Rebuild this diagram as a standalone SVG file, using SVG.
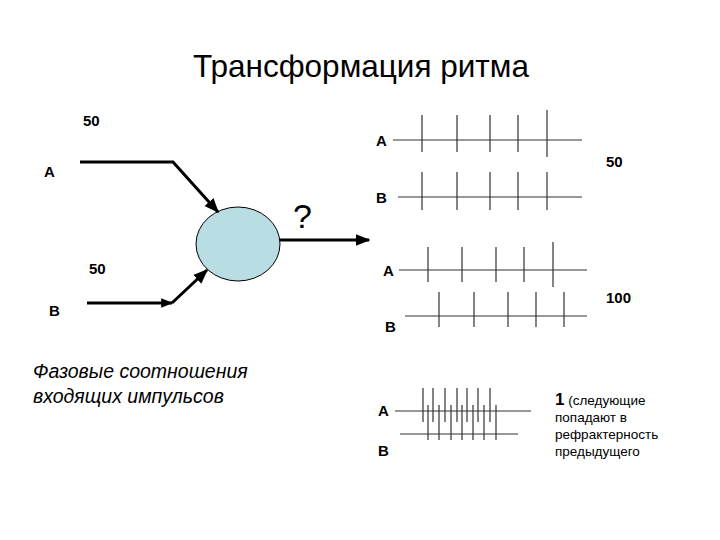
<svg xmlns="http://www.w3.org/2000/svg" width="720" height="540" viewBox="0 0 720 540">
<defs>
<marker id="ah" viewBox="0 0 10 10" refX="9" refY="5" markerWidth="5" markerHeight="5" orient="auto" markerUnits="strokeWidth"><path d="M0,1 L10,5 L0,9 z" fill="#000"/></marker>
<marker id="ahs" viewBox="0 0 10 10" refX="9" refY="5" markerWidth="4" markerHeight="4" orient="auto" markerUnits="strokeWidth"><path d="M0,1 L10,5 L0,9 z" fill="#000"/></marker>
</defs>
<style>
text{font-family:"Liberation Sans",Arial,sans-serif;fill:#000}
.b{font-weight:bold;font-size:15px}
.axis{stroke:#333;stroke-width:1.2;fill:none}
.tick{stroke:#333;stroke-width:1.2}
.conn{stroke:#000;stroke-width:3;fill:none}
.note{font-size:13.5px}
</style>
<rect width="720" height="540" fill="#fff"/>
<text x="361" y="77" font-size="31.5" text-anchor="middle">Трансформация ритма</text>

<g id="labels-left">
<text class="b" x="83" y="126">50</text>
<text class="b" x="44" y="177">A</text>
<text class="b" x="89" y="274">50</text>
<text class="b" x="49" y="316">B</text>
<text x="293" y="228" font-size="34">?</text>
</g>

<g id="neuron">
<ellipse cx="238" cy="244" rx="42" ry="37" fill="#b8dde2" stroke="#000" stroke-width="1"/>
</g>

<g id="connectors">
<polyline class="conn" points="80,162 173,162 218,212" marker-end="url(#ah)"/>
<line class="conn" x1="87" y1="303" x2="172" y2="303" marker-end="url(#ahs)"/>
<line class="conn" x1="172" y1="303" x2="207" y2="270" marker-end="url(#ah)"/>
<line class="conn" x1="280" y1="240" x2="369" y2="240" marker-end="url(#ah)"/>
</g>

<g id="trace1">
<text class="b" x="376" y="146">A</text>
<line class="axis" x1="393" y1="140" x2="582" y2="140"/>
<path class="tick" d="M422,115V152M457,115V152M490,115V152M518,115V152M547,110V157"/>
<text class="b" x="376" y="203">B</text>
<line class="axis" x1="398" y1="197" x2="582" y2="197"/>
<path class="tick" d="M422,172V210M457,172V210M490,172V210M518,172V210M547,172V210"/>
<text class="b" x="606" y="167">50</text>
</g>

<g id="trace2">
<text class="b" x="383" y="276">A</text>
<line class="axis" x1="399" y1="270" x2="587" y2="270"/>
<path class="tick" d="M428,247V282M462,247V282M496,247V282M524,247V282M553,242V287"/>
<text class="b" x="385" y="332">B</text>
<line class="axis" x1="405" y1="316" x2="587" y2="316"/>
<path class="tick" d="M439,292V327M474,292V327M508,292V327M536,292V327M564,292V327"/>
<text class="b" x="606" y="303">100</text>
</g>

<g id="trace3">
<text class="b" x="378" y="416">A</text>
<line class="axis" x1="395" y1="411" x2="531" y2="411"/>
<path class="tick" d="M423,388V422M433,388V422M445,388V422M457,388V422M467,388V422M478,388V422M490,388V422"/>
<line class="axis" x1="400" y1="434" x2="518" y2="434"/>
<path class="tick" d="M428,405V440M439,405V440M451,405V440M462,405V440M473,405V440M484,405V440M496,405V440"/>
<text class="b" x="378" y="456">B</text>
<text class="note" x="555" y="405"><tspan font-weight="bold" font-size="17">1</tspan> (следующие</text>
<text class="note" x="555" y="422">попадают в</text>
<text class="note" x="555" y="439">рефрактерность</text>
<text class="note" x="555" y="456">предыдущего</text>
</g>

<g id="caption">
<text x="33" y="378" font-size="19.5" font-style="italic">Фазовые соотношения</text>
<text x="33" y="403" font-size="19.5" font-style="italic">входящих импульсов</text>
</g>
</svg>
